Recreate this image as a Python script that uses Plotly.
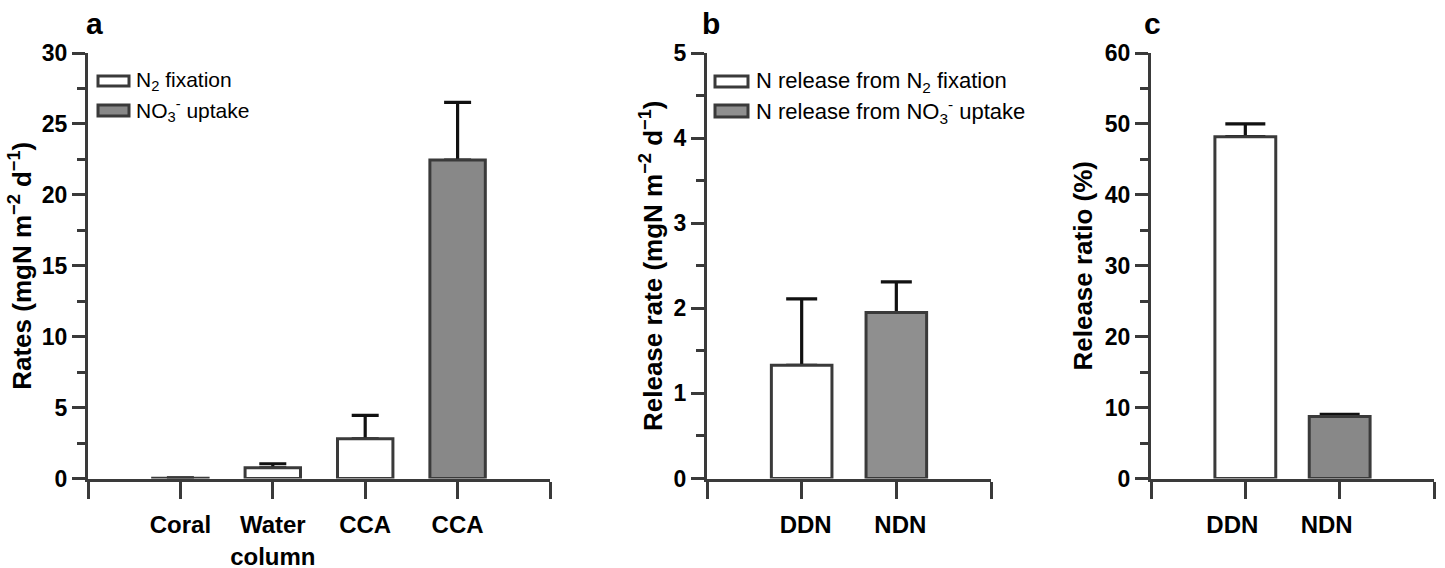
import plotly.graph_objects as go

# ---- data ----
a_cats = ["Coral", "Water<br>column", "CCA", "CCA"]
a_n2_vals = [0.02, 0.75, 2.8]
a_n2_err = [0.03, 0.29, 1.65]
a_no3_vals = [22.45]
a_no3_err = [4.07]

b_cats = ["DDN", "NDN"]
b_vals = [1.33, 1.95]
b_err = [0.78, 0.36]

c_cats = ["DDN", "NDN"]
c_vals = [48.2, 8.73]
c_err = [1.8, 0.33]

W, H = 1445, 568
AX = "#3a3a3a"
FONT = "Liberation Sans"
GRAY_A = "#888888"
GRAY_B = "#8f8f8f"

def px(x):
    return x / W

def py(y):
    return 1 - y / H

fig = go.Figure()

def add_bars(xs, vals, errs, width, fill, capw, xa, ya):
    # error bars drawn first (on transparent bars) so the real bars hide the lower cap
    fig.add_trace(go.Bar(x=xs, y=vals, width=width,
                         marker=dict(color="rgba(0,0,0,0)", line=dict(width=0)),
                         error_y=dict(type="data", array=errs, arrayminus=[0] * len(errs), symmetric=False,
                                      width=capw, thickness=3.2, color="#111111"),
                         xaxis=xa, yaxis=ya, showlegend=False, hoverinfo="skip"))
    fig.add_trace(go.Bar(x=xs, y=vals, width=width,
                         marker=dict(color=fill, line=dict(color=AX, width=3)),
                         xaxis=xa, yaxis=ya, showlegend=False))

# panel a
add_bars([1, 2, 3], a_n2_vals, a_n2_err, 0.6, "white", 13.5, "x", "y")
add_bars([4], a_no3_vals, a_no3_err, 0.6, GRAY_A, 13.5, "x", "y")
# panel b
add_bars([1], b_vals[:1], b_err[:1], 0.64, "white", 15.5, "x2", "y2")
add_bars([2], b_vals[1:], b_err[1:], 0.64, GRAY_B, 15.5, "x2", "y2")
# panel c
add_bars([1], c_vals[:1], c_err[:1], 0.645, "white", 20, "x3", "y3")
add_bars([2], c_vals[1:], c_err[1:], 0.645, GRAY_A, 20, "x3", "y3")

ydom = [py(478.5), py(53)]
tickfont = dict(family=FONT, size=23, color="black", weight="bold")
xtickfont = dict(family=FONT, size=24, color="black", weight="bold")

def xaxis(dom, n, labels, shift=0):
    return dict(domain=dom, range=[0, n + 1], tickmode="array", tickvals=list(range(1, n + 1)),
                ticktext=labels, showline=True, linecolor=AX, linewidth=3,
                ticks="outside", ticklen=17, tickwidth=3, tickcolor=AX, showgrid=False,
                minor=dict(tickmode="array", tickvals=[0, n + 1], ticks="outside", ticklen=17,
                           tickwidth=3, tickcolor=AX, showgrid=False),
                zeroline=False, tickfont=xtickfont, ticklabelshift=shift, ticklabelstandoff=6,
                fixedrange=True, automargin=False)

def yaxis(anchor, rng, dtick, title, standoff):
    return dict(domain=ydom, anchor=anchor, range=rng, dtick=dtick, showline=True, linecolor=AX,
                linewidth=3, ticks="outside", ticklen=13, tickwidth=3, tickcolor=AX, showgrid=False,
                zeroline=False, tickfont=tickfont, automargin=False, fixedrange=True,
                minor=dict(dtick=dtick / 2, ticks="outside", ticklen=8, tickwidth=3, tickcolor=AX,
                           showgrid=False),
                title=dict(text=title, font=dict(family=FONT, size=26, color="black", weight="bold"),
                           standoff=standoff))

fig.update_layout(
    width=W, height=H, margin=dict(l=0, r=0, t=0, b=0, autoexpand=False),
    paper_bgcolor="white", plot_bgcolor="white", showlegend=False, barmode="overlay",
    xaxis=xaxis([px(88), px(550)], 4, a_cats),
    xaxis2=dict(xaxis([px(707), px(991)], 2, b_cats, 4), anchor="y2"),
    xaxis3=dict(xaxis([px(1151), px(1434)], 2, c_cats, -13), anchor="y3"),
    yaxis=yaxis("x", [0, 30], 5, "Rates (mgN m<sup>−2</sup> d<sup>−1</sup>)", 3),
    yaxis2=yaxis("x2", [0, 5], 1, "Release rate (mgN m<sup>−2</sup> d<sup>−1</sup>)", 4),
    yaxis3=yaxis("x3", [0, 60], 10, "Release ratio (%)", 5),
)

# custom legends (wide swatches)
shapes = []
annots = []

def legend_item(x0, x1, y0, y1, fill, text, tx, size):
    shapes.append(dict(type="rect", xref="paper", yref="paper", x0=px(x0), x1=px(x1), y0=py(y1), y1=py(y0),
                       fillcolor=fill, line=dict(color=AX, width=3)))
    annots.append(dict(xref="paper", yref="paper", x=px(tx), y=py((y0 + y1) / 2), xanchor="left", yanchor="middle",
                       text=text, showarrow=False, font=dict(family=FONT, size=size, color="black")))

legend_item(98, 129, 76, 86, "white", "N<sub>2</sub> fixation", 134, 21)
legend_item(98, 129, 105, 116, GRAY_A, "NO<sub>3</sub><sup>-</sup> uptake", 134, 21)
legend_item(715, 748, 76, 87, "white", "N release from N<sub>2</sub> fixation", 754, 22)
legend_item(715, 748, 105, 117, GRAY_B, "N release from NO<sub>3</sub><sup>-</sup> uptake", 754, 22)

for letter, x in [("a", 95), ("b", 711), ("c", 1152)]:
    annots.append(dict(xref="paper", yref="paper", x=px(x), y=py(24), xanchor="center", yanchor="middle",
                       text=letter, showarrow=False, font=dict(family=FONT, size=30, color="black", weight="bold")))

fig.update_layout(shapes=shapes, annotations=annots)
fig.write_html("out.html", config={"displayModeBar": False},
               post_script="document.body.style.margin='0';document.body.style.overflow='hidden';")
